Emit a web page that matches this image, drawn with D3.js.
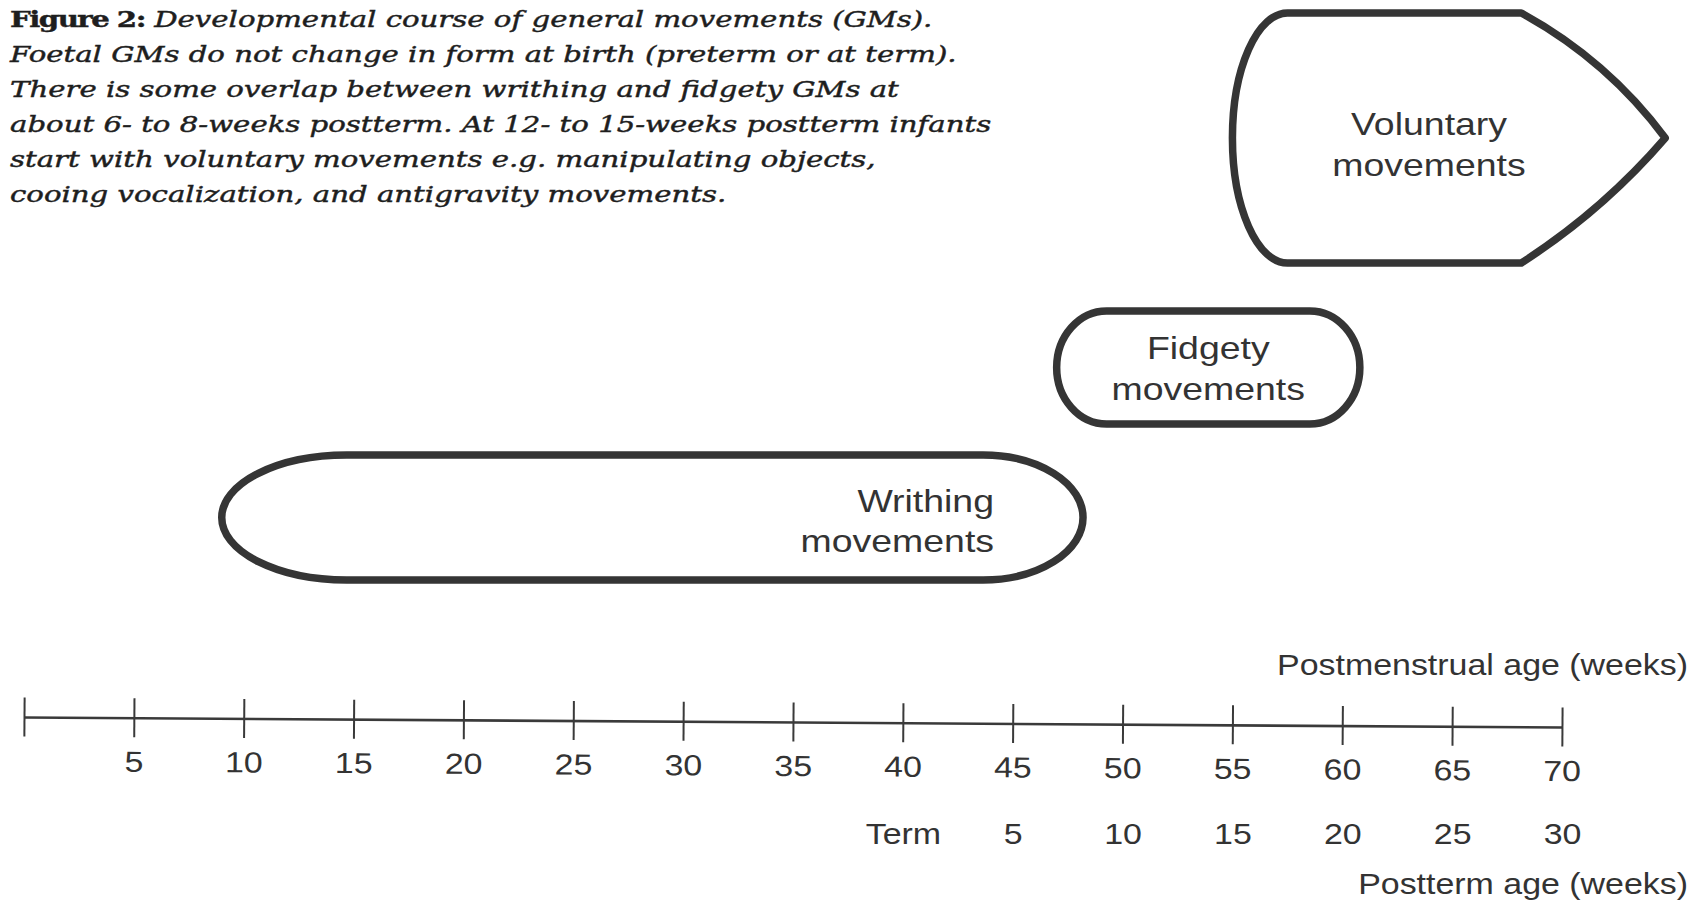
<!DOCTYPE html>
<html><head><meta charset="utf-8">
<script src="https://cdn.jsdelivr.net/npm/d3@7"></script>
<style>html,body{margin:0;padding:0;background:#fff;} svg{display:block}</style>
</head><body>
<svg id="chart" width="1696" height="904"></svg>
<script>
// ---------------- data ----------------
const captionLead = "Figure 2:";
const captionLines = [
  " Developmental course of general movements (GMs).",
  "Foetal GMs do not change in form at birth (preterm or at term).",
  "There is some overlap between writhing and fidgety GMs at",
  "about 6- to 8-weeks postterm. At 12- to 15-weeks postterm infants",
  "start with voluntary movements e.g. manipulating objects,",
  "cooing vocalization, and antigravity movements."
];
const pmaTicks = [0, 5, 10, 15, 20, 25, 30, 35, 40, 45, 50, 55, 60, 65, 70];
const pmaTickLabels = ["", "5", "10", "15", "20", "25", "30", "35", "40", "45", "50", "55", "60", "65", "70"];
const posttermTicks = [40, 45, 50, 55, 60, 65, 70];
const posttermLabels = ["Term", "5", "10", "15", "20", "25", "30"];
const phaseNames = ["writhing", "fidgety", "voluntary"];
const phaseLabels = [["Writhing", "movements"], ["Fidgety", "movements"], ["Voluntary", "movements"]];
const phaseStart = [9.0, 47.0, 55.0];   // postmenstrual weeks
const phaseEnd = [48.2, 60.8, 74.7];    // postmenstrual weeks (voluntary continues past the axis)
const axisTitleTop = "Postmenstrual age (weeks)";
const axisTitleBottom = "Postterm age (weeks)";

// ---------------- drawing ----------------
const svg = d3.select("#chart");
svg.append("rect").attr("width", 1696).attr("height", 904).attr("fill", "#ffffff");

const x = d3.scaleLinear().domain([0, 70]).range([24, 1562]);
const SX = 1.17;            // horizontal stretch of the scanned sans text
const sans = "'Liberation Sans', Arial, Helvetica, sans-serif";
const ink = "#333333";

// caption
const capInk = "#1e1e1e";
const cap = svg.append("g").attr("class", "caption");
const capTexts = captionLines.map((line, i) => {
  const t = cap.append("text")
    .attr("x", 0).attr("y", 27 + 35 * i)
    .attr("font-family", "'DejaVu Serif', serif")
    .attr("font-size", 23).attr("fill", capInk)
    .attr("stroke", capInk).attr("stroke-width", 0.45);
  if (i === 0) {
    t.append("tspan").attr("font-weight", "bold").attr("font-style", "normal")
      .attr("letter-spacing", -1.2).text(captionLead);
  }
  t.append("tspan").attr("font-style", "italic").text(line);
  return t;
});
const w4 = capTexts[3].node().getComputedTextLength();
const capScale = 982 / w4;
capTexts.forEach(t => t.attr("transform", `translate(10,0) scale(${capScale},1)`));

// phase shapes
const stroke = "#353535", sw = 7.5;
const shapes = svg.append("g").attr("class", "phases");

// writhing: elongated capsule with elliptical ends
{
  const x0 = x(phaseStart[0]), x1 = x(phaseEnd[0]);
  const top = 455, bot = 580, ry = (bot - top) / 2, rxL = 125, rxR = 100;
  const p = `M${x0 + rxL},${top} L${x1 - rxR},${top} A${rxR},${ry} 0 0 1 ${x1 - rxR},${bot} ` +
            `L${x0 + rxL},${bot} A${rxL},${ry} 0 0 1 ${x0 + rxL},${top} Z`;
  shapes.append("path").attr("d", p).attr("fill", "none").attr("stroke", stroke).attr("stroke-width", sw);
}
// fidgety: rounded capsule
{
  const x0 = x(phaseStart[1]), x1 = x(phaseEnd[1]);
  const top = 311, bot = 424, ry = (bot - top) / 2, rx = 50;
  const p = `M${x0 + rx},${top} L${x1 - rx},${top} A${rx},${ry} 0 0 1 ${x1 - rx},${bot} ` +
            `L${x0 + rx},${bot} A${rx},${ry} 0 0 1 ${x0 + rx},${top} Z`;
  shapes.append("path").attr("d", p).attr("fill", "none").attr("stroke", stroke).attr("stroke-width", sw);
}
// voluntary: rounded left side, arrow-pointed right side
{
  const xl = x(phaseStart[2]), tip = x(phaseEnd[2]);
  const top = 13, bot = 263, mid = (top + bot) / 2;
  const cl = xl + 55, cr = tip - 144;
  const p = `M${cl},${top} L${cr},${top} Q${tip - 58},${top + 47} ${tip},${mid} ` +
            `Q${tip - 63},${mid + 73} ${cr},${bot} L${cl},${bot} A${cl - xl},${mid - top} 0 0 1 ${cl},${top} Z`;
  shapes.append("path").attr("d", p).attr("fill", "none").attr("stroke", stroke).attr("stroke-width", sw)
    .attr("stroke-linejoin", "round");
}

// phase labels
function label(lines, ax, ys, anchor) {
  lines.forEach((s, i) => {
    svg.append("text")
      .attr("transform", `translate(${ax},${ys[i]}) scale(${SX},1)`)
      .attr("text-anchor", anchor)
      .attr("font-family", sans).attr("font-size", 32).attr("fill", ink)
      .text(s);
  });
}
label(phaseLabels[0], 994, [512, 552], "end");
label(phaseLabels[1], (x(phaseStart[1]) + x(phaseEnd[1])) / 2, [359, 400], "middle");
label(phaseLabels[2], 1429, [135, 176], "middle");

// postmenstrual axis (slightly tilted like the scan)
const tilt = Math.atan2(10, x(70) - x(0)) * 180 / Math.PI;
const axG = svg.append("g")
  .attr("transform", `translate(${x(0)},717) rotate(${tilt}) translate(${-x(0)},0)`);
axG.call(d3.axisBottom(x).tickValues(pmaTicks).tickSizeOuter(0)
  .tickFormat((d, i) => pmaTickLabels[i]));
axG.select(".domain").attr("stroke", "#3a3a3a").attr("stroke-width", 2.6);
axG.selectAll(".tick line").attr("y1", -19.5).attr("y2", 19.5).attr("stroke", "#3a3a3a").attr("stroke-width", 2);
axG.selectAll(".tick text")
  .attr("y", 54).attr("dy", 0)
  .attr("transform", `scale(${SX},1)`)
  .attr("font-family", sans).attr("font-size", 29).attr("fill", ink);

// postterm axis labels
const ptG = svg.append("g").attr("transform", "translate(0,844)");
ptG.call(d3.axisBottom(x).tickValues(posttermTicks).tickSize(0)
  .tickFormat((d, i) => posttermLabels[i]));
ptG.select(".domain").remove();
ptG.selectAll(".tick text")
  .attr("y", 0).attr("dy", 0)
  .attr("transform", `scale(${SX},1)`)
  .attr("font-family", sans).attr("font-size", 29).attr("fill", ink);

// axis titles
svg.append("text").attr("transform", `translate(1688,675) scale(${SX},1)`)
  .attr("text-anchor", "end").attr("font-family", sans).attr("font-size", 29).attr("fill", ink)
  .text(axisTitleTop);
svg.append("text").attr("transform", `translate(1688,894) scale(${SX},1)`)
  .attr("text-anchor", "end").attr("font-family", sans).attr("font-size", 29).attr("fill", ink)
  .text(axisTitleBottom);
</script>
</body></html>
